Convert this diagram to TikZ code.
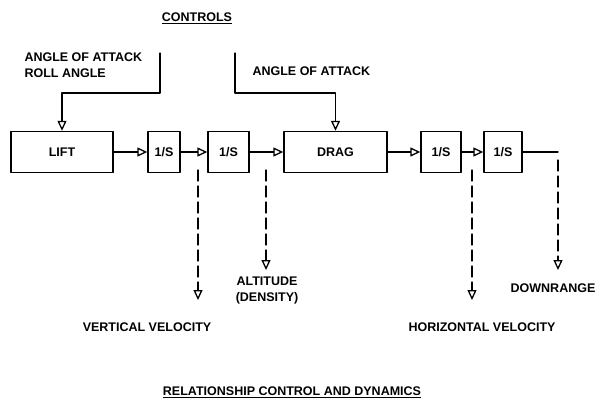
\documentclass[tikz,border=0pt]{standalone}
\usepackage{fontspec}
\setmainfont{Liberation Sans}
\usetikzlibrary{arrows.meta}
\begin{document}
\begin{tikzpicture}[x=1pt,y=-1pt,line join=round,line cap=round,font=\fontsize{12.5}{16}\selectfont\bfseries,
	blk/.style={draw,line width=1.4pt,minimum height=41pt,inner sep=0pt},
	sig/.style={line width=1.3pt,-{Triangle[open,length=10pt,width=9pt,line width=1.3pt]}},
	outp/.style={sig,dash pattern=on 11pt off 5pt}]
	\useasboundingbox (0,0) rectangle (596,402);
	\node (ctl) at (197,18) {\underline{CONTROLS}};
	\node[anchor=west,align=left] (aoa) at (21,65) {ANGLE OF ATTACK\\ROLL ANGLE};
	\node[anchor=west] (aob) at (249,71) {ANGLE OF ATTACK};
	\node[blk,minimum width=102pt] (lift) at (62,152) {LIFT};
	\node[blk,minimum width=32pt] (iv) at (164,152) {1/S};
	\node[blk,minimum width=41pt] (ih) at (228.5,152) {1/S};
	\node[blk,minimum width=103pt] (drag) at (335.5,152) {DRAG};
	\node[blk,minimum width=40pt] (iu) at (441,152) {1/S};
	\node[blk,minimum width=38pt] (ix) at (503,152) {1/S};
	\node (vv) at (147,327) {VERTICAL VELOCITY};
	\node[align=center] (alt) at (267,290) {ALTITUDE\\(DENSITY)};
	\node (hv) at (482,327) {HORIZONTAL VELOCITY};
	\node (dr) at (553,288) {DOWNRANGE};
	\node (ttl) at (292,392) {\underline{RELATIONSHIP CONTROL AND DYNAMICS}};
	\coordinate (ca) at (160,53);
	\coordinate (cb) at (235,53);
	\coordinate (bv) at (198,152);
	\coordinate (ba) at (266,152);
	\coordinate (bh) at (472,152);
	\coordinate (bd) at (558,152);
	\coordinate (ev) at (198,300);
	\coordinate (ea) at (266,270);
	\coordinate (eh) at (472,300);
	\coordinate (ed) at (558,270);
	% control inputs
	\draw[sig] (ca) -- (160,93) -| (lift.north);
	\draw[sig] (cb) -- (235,93) -| (drag.north);
	% forward path
	\draw[sig] (lift) -- (iv);
	\draw[sig] (iv) -- (ih);
	\draw[sig] (ih) -- (drag);
	\draw[sig] (drag) -- (iu);
	\draw[sig] (iu) -- (ix);
	\draw[line width=1.3pt] (ix) -- (bd);
	% outputs
	\draw[outp,shorten <=18pt] (bv) -- (ev);
	\draw[outp,shorten <=18pt] (ba) -- (ea);
	\draw[outp,shorten <=18pt] (bh) -- (eh);
	\draw[outp,shorten <=8pt] (bd) -- (ed);
\end{tikzpicture}
\end{document}
